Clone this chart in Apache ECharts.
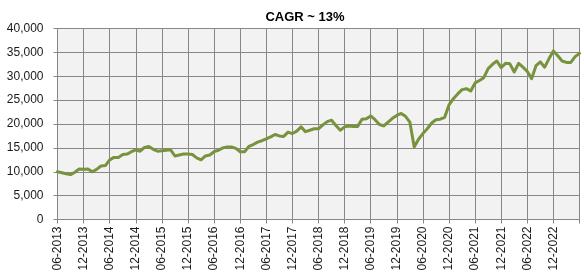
<!DOCTYPE html>
<html>
<head>
<meta charset="utf-8">
<script src="https://cdn.jsdelivr.net/npm/echarts@6/dist/echarts.min.js"></script>
<style>
html,body{margin:0;padding:0;background:#fff;}
#chart{width:584px;height:275px;}
</style>
</head>
<body>
<div id="chart"></div>
<script>
// Month categories 06-2013 .. 06-2023
var startYear = 2013, startMonth = 6, monthCount = 121;
var categories = [];
for (var i = 0; i < monthCount; i++) {
  var m = (startMonth - 1 + i) % 12 + 1;
  var y = startYear + Math.floor((startMonth - 1 + i) / 12);
  categories.push((m < 10 ? '0' + m : '' + m) + '-' + y);
}

var portfolioValues = [
  10000, 9800, 9600, 9400, 9900, 10600, 10500, 10600, 10000, 10500,
  11200, 11300, 12500, 13000, 13000, 13600, 13700, 14200, 14600, 14300,
  15100, 15300, 14700, 14300, 14400, 14500, 14600, 13300, 13500, 13700,
  13700, 13600, 12900, 12500, 13300, 13500, 14200, 14500, 15000, 15200,
  15200, 14900, 14200, 14200, 15300, 15700, 16200, 16500, 16900, 17300,
  17800, 17500, 17400, 18300, 18000, 18500, 19400, 18400, 18700, 19000,
  19000, 19800, 20500, 20800, 19700, 18700, 19400, 19600, 19500, 19500,
  21000, 21100, 21700, 20900, 19900, 19600, 20400, 21200, 21800, 22200,
  21600, 20400, 15200, 16800, 18000, 19000, 20200, 20900, 21000, 21400,
  24000, 25300, 26300, 27200, 27400, 26900, 28600, 29100, 29700, 31600,
  32500, 33200, 31800, 32700, 32600, 30900, 32700, 31900, 31000, 29500,
  32200, 33000, 31900, 33700, 35300, 34300, 33200, 32900, 32900, 34100,
  34800
];

var titleText = 'CAGR ~ 13%';
var yMin = 0, yMax = 40000, yStep = 5000;

var chart = echarts.init(document.getElementById('chart'), null, {renderer: 'canvas'});
var gridColor = '#878787';
var font = 'Liberation Sans, Arial, sans-serif';

chart.setOption({
  animation: false,
  backgroundColor: '#ffffff',
  title: {
    text: titleText,
    left: 300, top: 6, textAlign: 'center',
    textStyle: {fontFamily: font, fontSize: 13, fontWeight: 'bold', color: '#000'}
  },
  grid: {
    left: 57.5, top: 28.5, right: 4.5, bottom: 55.5,
    show: true, backgroundColor: '#f2f2f2', borderColor: gridColor, borderWidth: 1
  },
  xAxis: {
    type: 'category',
    data: categories,
    boundaryGap: false,
    axisLine: {show: true, lineStyle: {color: gridColor, width: 1}},
    axisTick: {show: true, length: 4, interval: function (i) { return i % 6 === 0; }, lineStyle: {color: gridColor}},
    splitLine: {show: true, interval: function (i) { return i % 6 === 0; }, lineStyle: {color: gridColor, width: 1}},
    axisLabel: {
      rotate: 90, margin: 7,
      interval: function (i) { return i % 6 === 0 && i < 120; },
      fontFamily: font, fontSize: 12, color: '#1a1a1a'
    }
  },
  yAxis: {
    type: 'value',
    min: yMin, max: yMax, interval: yStep,
    axisLine: {show: true, lineStyle: {color: gridColor, width: 1}},
    axisTick: {show: true, length: 4, lineStyle: {color: gridColor}},
    splitLine: {show: true, lineStyle: {color: gridColor, width: 1}},
    axisLabel: {
      margin: 14, fontFamily: font, fontSize: 12, color: '#1a1a1a',
      formatter: function (v) { return v.toLocaleString('en-US'); }
    }
  },
  series: [{
    type: 'line',
    data: portfolioValues,
    showSymbol: false,
    smooth: false,
    lineStyle: {color: '#77933c', width: 3, join: 'round', cap: 'round'},
    itemStyle: {color: '#77933c'}
  }]
});
</script>
</body>
</html>
